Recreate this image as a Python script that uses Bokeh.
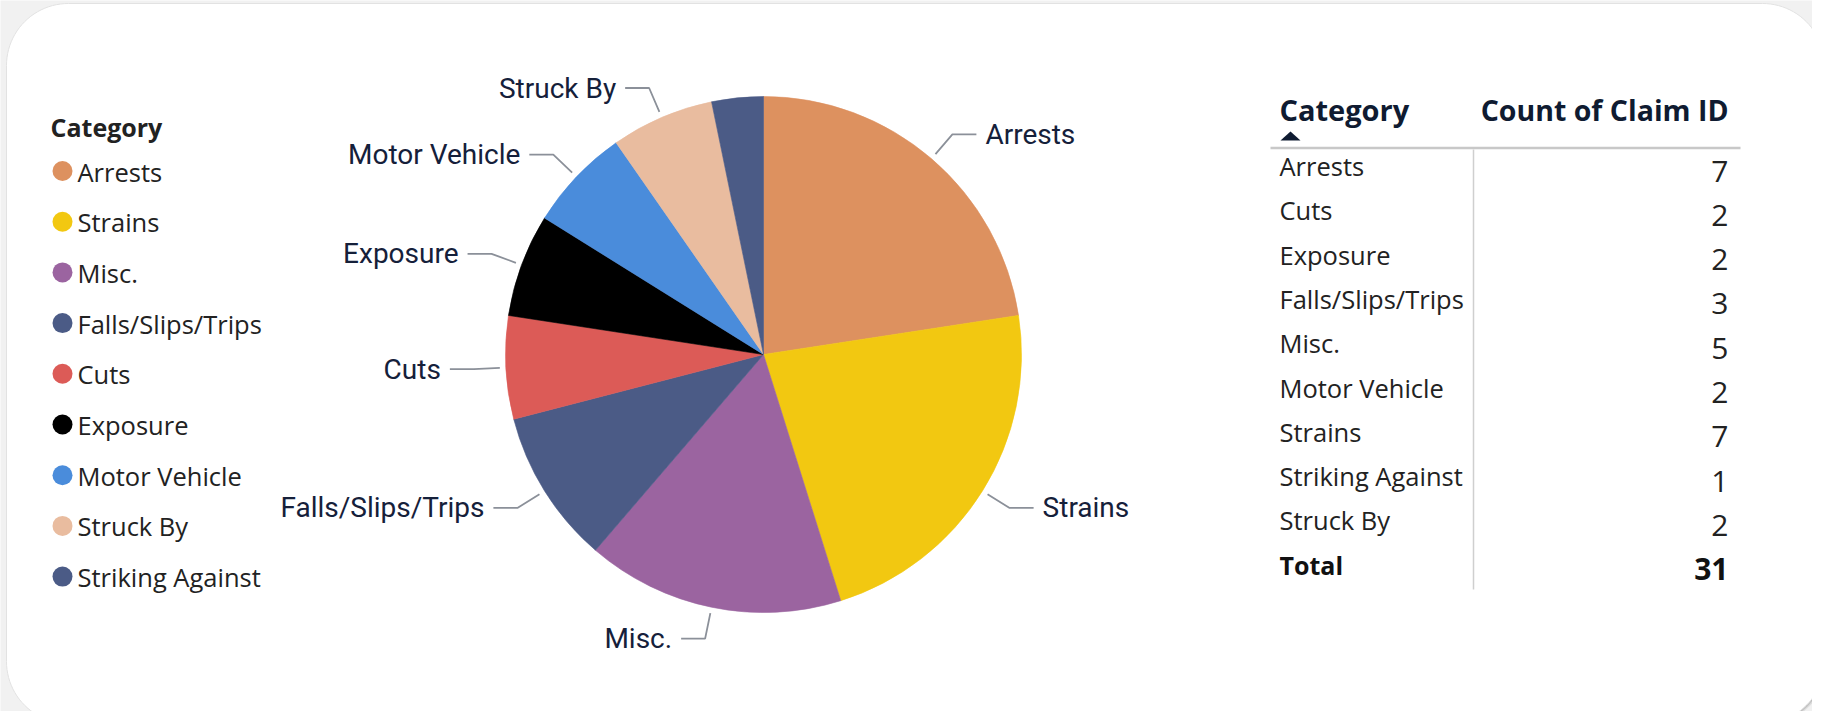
import math
from bokeh.plotting import figure
from bokeh.models import ColumnDataSource
from bokeh.core.properties import value
from bokeh.embed import file_html
from bokeh.resources import INLINE

# ---------------- data ----------------
categories = ["Arrests", "Strains", "Misc.", "Falls/Slips/Trips", "Cuts",
              "Exposure", "Motor Vehicle", "Struck By", "Striking Against"]
counts = [7, 7, 5, 3, 2, 2, 2, 2, 1]
colors = ["#DD915F", "#F2C811", "#9B64A0", "#4B5B86", "#DC5B57",
          "#000000", "#4A8CDB", "#E9BC9F", "#4B5B86"]
pie_labeled = [True, True, True, True, True, True, True, True, False]
legend_title = "Category"
table_headers = ["Category", "Count of Claim ID"]
total_label = "Total"

# ---------------- layout helpers ----------------
W, H = 1812, 711
SH = 727


def Y(ys):
    return SH - ys


p = figure(width=W, height=H, x_range=(0, W), y_range=(Y(H), Y(0)),
           output_backend="svg", toolbar_location=None, min_border=0,
           x_axis_location=None, y_axis_location=None)
p.grid.visible = False
p.outline_line_color = None
p.background_fill_color = "#F1F1F1"
p.border_fill_color = "#F1F1F1"


def rrect(x0, y0, x1, y1, r, n=24):
    pts = []
    corners = [(x1 - r, y0 + r, -90, 0), (x1 - r, y1 - r, 0, 90),
               (x0 + r, y1 - r, 90, 180), (x0 + r, y0 + r, 180, 270)]
    for cx, cy, a0, a1 in corners:
        for k in range(n + 1):
            a = math.radians(a0 + (a1 - a0) * k / n)
            pts.append((cx + r * math.cos(a), cy + r * math.sin(a)))
    return [q[0] for q in pts], [Y(q[1]) for q in pts]


# card with soft shadow
for off, col, al in [(5, "#BDBDBD", 0.35), (3, "#B0B0B0", 0.45), (1.5, "#A8A8A8", 0.5)]:
    xs, ys = rrect(6 + off, 3 + off, 1824 + off * 0.4, 723 + off * 0.4, 62)
    p.patch(xs, ys, fill_color=col, fill_alpha=al, line_color=None)
xs, ys = rrect(6, 3, 1824, 723, 62)
p.patch(xs, ys, fill_color="#FFFFFF", line_color="#E2E2E2", line_width=1)

# ---------------- pie ----------------
cx, cy, r = 763, 354, 258
total = sum(counts)
starts, ends, mids = [], [], []
cum = 0
for c in counts:
    a0 = cum / total * 2 * math.pi
    a1 = (cum + c) / total * 2 * math.pi
    starts.append(math.pi / 2 - a1)
    ends.append(math.pi / 2 - a0)
    mids.append((a0 + a1) / 2)
    cum += c

pie_src = ColumnDataSource(dict(start=starts, end=ends, color=colors, cat=categories))
p.wedge(x=cx, y=Y(cy), radius=r, start_angle="start", end_angle="end",
        fill_color="color", line_color="color", line_width=0.6, source=pie_src)

lx, ly, tx, ty, tt, ta = [], [], [], [], [], []
for cat, a, show in zip(categories, mids, pie_labeled):
    if not show:
        continue
    s, c = math.sin(a), math.cos(a)
    side = 1 if s > 0 else -1
    x0, y0 = cx + (r + 6) * s, cy - (r + 6) * c
    x1, y1 = cx + (r + 32) * s, cy - (r + 32) * c
    x2 = x1 + side * 24
    lx.append([x0, x1, x2])
    ly.append([Y(y0), Y(y1), Y(y1)])
    tx.append(x2 + side * 9)
    ty.append(Y(y1))
    tt.append(cat)
    ta.append("left" if side > 0 else "right")

p.multi_line(xs=lx, ys=ly, line_color="#8B9099", line_width=1.8)
p.text(x=tx, y=ty, text=tt, text_align=ta, text_baseline="middle",
       text_font=value("Roboto"), text_font_size="28px", text_color="#15203A")

# ---------------- legend ----------------
p.text(x=[50], y=[Y(126.5)], text=[legend_title], text_font=value("Open Sans"),
       text_font_style="bold", text_font_size="25px", text_color="#222222",
       text_baseline="middle")
leg_y = [170.5 + i * 50.7 for i in range(len(categories))]
p.scatter(x=[62] * len(categories), y=[Y(v) for v in leg_y], size=20,
          marker="circle", fill_color=colors, line_color=None)
p.text(x=[77] * len(categories), y=[Y(v + 0.5) for v in leg_y], text=categories,
       text_font=value("Open Sans"), text_font_size="25.5px", text_color="#222222",
       text_baseline="middle")

# ---------------- table ----------------
tab_rows = sorted(zip(categories, counts), key=lambda t: t[0])
tab_cats = [t[0] for t in tab_rows]
tab_vals = [str(t[1]) for t in tab_rows]

p.text(x=[1279], y=[Y(109)], text=[table_headers[0]], text_font=value("Open Sans"),
       text_font_style="bold", text_font_size="29px", text_color="#0F1B31",
       text_baseline="middle")
p.text(x=[1728], y=[Y(109)], text=[table_headers[1]], text_font=value("Open Sans"),
       text_font_style="bold", text_font_size="28.5px", text_color="#0F1B31",
       text_baseline="middle", text_align="right")
p.patch([1280, 1300, 1290], [Y(140), Y(140), Y(131)], fill_color="#0F1B31", line_color=None)
p.line([1270, 1740], [Y(147.5), Y(147.5)], line_color="#C8C8C8", line_width=2.5)
p.line([1473, 1473], [Y(149), Y(589)], line_color="#CFCFCF", line_width=1.5)

row_y = [165.5 + i * 44.3 for i in range(len(tab_cats))]
p.text(x=[1279] * len(tab_cats), y=[Y(v) for v in row_y], text=tab_cats,
       text_font=value("Open Sans"), text_font_size="25.5px", text_color="#222222",
       text_baseline="middle")
p.text(x=[1728] * len(tab_vals), y=[Y(v + 5) for v in row_y], text=tab_vals,
       text_font=value("Open Sans"), text_font_size="30px", text_color="#222222",
       text_baseline="middle", text_align="right")
ty_total = 165.5 + len(tab_cats) * 44.3
p.text(x=[1279], y=[Y(ty_total)], text=[total_label], text_font=value("Open Sans"),
       text_font_style="bold", text_font_size="25px", text_color="#111111",
       text_baseline="middle")
p.text(x=[1728], y=[Y(ty_total + 4)], text=[str(total)], text_font=value("Open Sans"),
       text_font_style="bold", text_font_size="30px", text_color="#111111",
       text_baseline="middle", text_align="right")

open("out.html", "w").write(file_html(p, INLINE))
